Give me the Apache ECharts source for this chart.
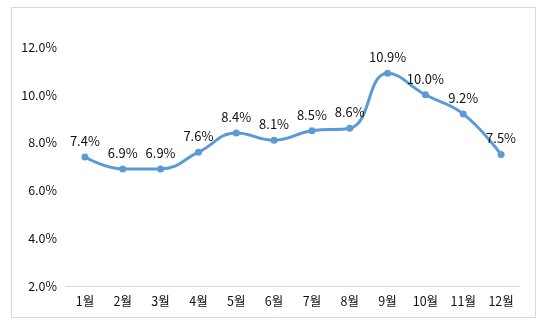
<!DOCTYPE html>
<html>
<head>
<meta charset="utf-8">
<script src="https://cdn.jsdelivr.net/npm/echarts@6/dist/echarts.min.js"></script>
<style>
  html, body { margin: 0; padding: 0; background: #fff; }
  #chart { width: 550px; height: 325px; }
</style>
</head>
<body>
<div id="chart"></div>
<script>
// Monthly rate (%)
const months = ['1월', '2월', '3월', '4월', '5월', '6월', '7월', '8월', '9월', '10월', '11월', '12월'];
const rates = [7.4, 6.9, 6.9, 7.6, 8.4, 8.1, 8.5, 8.6, 10.9, 10.0, 9.2, 7.5];
const yMin = 2, yMax = 12, yStep = 2;

const font = '"Noto Sans CJK KR", "Noto Sans", sans-serif';
const chart = echarts.init(document.getElementById('chart'), null, { renderer: 'canvas' });

chart.setOption({
  animation: false,
  backgroundColor: '#fff',
  graphic: [{
    type: 'rect',
    shape: { x: 11.5, y: 7.5, width: 524, height: 310 },
    style: { fill: 'none', stroke: '#d9d9d9', lineWidth: 1 },
    silent: true
  }],
  grid: { left: 66, right: 30, top: 47, bottom: 39 },
  xAxis: {
    type: 'category',
    data: months,
    boundaryGap: true,
    axisLine: { lineStyle: { color: '#d9d9d9', width: 1 } },
    axisTick: { show: false },
    axisLabel: { color: '#111', fontFamily: font, fontSize: 12.5, margin: 9 }
  },
  yAxis: {
    type: 'value',
    min: yMin,
    max: yMax,
    interval: yStep,
    axisLine: { show: false },
    axisTick: { show: false },
    splitLine: { show: false },
    axisLabel: {
      color: '#111',
      fontFamily: font,
      fontSize: 12.5,
      margin: 9,
      formatter: v => v.toFixed(1) + '%'
    }
  },
  series: [{
    type: 'line',
    data: rates,
    smooth: 0.45,
    symbol: 'circle',
    symbolSize: 7,
    lineStyle: { color: '#5b9bd5', width: 3 },
    itemStyle: { color: '#5b9bd5' },
    label: {
      show: true,
      position: 'top',
      distance: 6,
      color: '#111',
      fontFamily: font,
      fontSize: 13,
      formatter: p => p.value.toFixed(1) + '%'
    }
  }]
});
</script>
</body>
</html>
